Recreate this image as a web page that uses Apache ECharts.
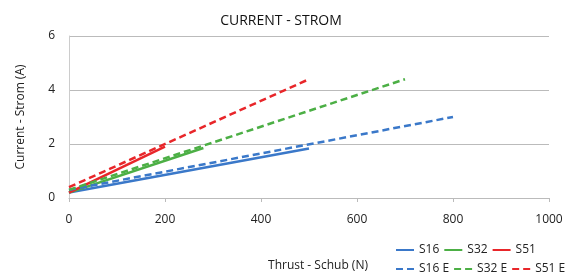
<!DOCTYPE html>
<html>
<head>
<meta charset="utf-8">
<script src="https://cdn.jsdelivr.net/npm/echarts@6/dist/echarts.min.js"></script>
<style>
  html, body { margin: 0; padding: 0; background: #fff; }
  #chart { width: 577px; height: 273px; }
</style>
</head>
<body>
<div id="chart"></div>
<script>
// measured curves, thrust (N) -> current (A)
const s16Thrust = [0, 500];
const s16Current = [0.2, 1.83];
const s32Thrust = [0, 280];
const s32Current = [0.2, 1.85];
const s51Thrust = [0, 200];
const s51Current = [0.2, 1.9];
// estimated curves
const s16eThrust = [0, 800];
const s16eCurrent = [0.3, 3.0];
const s32eThrust = [0, 700];
const s32eCurrent = [0.3, 4.4];
const s51eThrust = [0, 500];
const s51eCurrent = [0.4, 4.4];

const xTicks = [0, 200, 400, 600, 800, 1000];
const yTicks = [0, 2, 4, 6];

function pairs(xs, ys) {
    return xs.map((x, i) => [x, ys[i]]);
}

const blue = '#3a78c9', green = '#4caf45', red = '#e8262a';
const font = '"Open Sans", "Liberation Sans", sans-serif';

function line(name, xs, ys, color, dashed) {
    return {
        name: name,
        type: 'line',
        symbol: 'none',
        data: pairs(xs, ys),
        lineStyle: { color: color, width: 2.5, type: dashed ? [7, 4] : 'solid' },
        itemStyle: { color: color }
    };
}

const legendBase = {
    left: 390, itemWidth: 18, itemHeight: 10, itemGap: 4,
    itemStyle: { opacity: 0 },
    textStyle: { fontSize: 12, color: '#222', width: 34 }
};

const chart = echarts.init(document.getElementById('chart'));
chart.setOption({
    animation: false,
    textStyle: { fontFamily: font },
    title: {
        text: 'CURRENT - STROM',
        left: 276, top: 9, textAlign: 'center',
        textStyle: { fontSize: 14, fontWeight: 'normal', color: '#111', fontFamily: font }
    },
    legend: [
        Object.assign({}, legendBase, { data: ['S16', 'S32', 'S51'], top: 239 }),
        Object.assign({}, legendBase, { data: ['S16 E', 'S32 E', 'S51 E'], top: 258 })
    ],
    grid: { left: 69, right: 28, top: 36, bottom: 75, outerBoundsMode: 'none' },
    xAxis: {
        type: 'value', min: xTicks[0], max: xTicks[xTicks.length - 1], interval: 200,
        name: 'Thrust - Schub (N)', nameLocation: 'middle', nameGap: 62,
        nameTextStyle: { fontSize: 12, color: '#222', padding: [0, 0, 0, 18] },
        axisLine: { lineStyle: { color: '#bbb' } },
        axisTick: { show: true, length: 4, lineStyle: { color: '#bbb' } },
        axisLabel: { fontSize: 12, color: '#222', margin: 16, formatter: v => String(v) },
        splitLine: { show: false }
    },
    yAxis: {
        type: 'value', min: yTicks[0], max: yTicks[yTicks.length - 1], interval: 2,
        name: 'Current - Strom (A)', nameLocation: 'middle', nameGap: 42,
        nameTextStyle: { fontSize: 12, color: '#222' },
        axisLine: { show: true, lineStyle: { color: '#ccc' } },
        axisTick: { show: false },
        axisLabel: { fontSize: 12, color: '#222', margin: 14 },
        splitLine: { lineStyle: { color: '#bbb' } }
    },
    series: [
        line('S16', s16Thrust, s16Current, blue, false),
        line('S32', s32Thrust, s32Current, green, false),
        line('S51', s51Thrust, s51Current, red, false),
        line('S16 E', s16eThrust, s16eCurrent, blue, true),
        line('S32 E', s32eThrust, s32eCurrent, green, true),
        line('S51 E', s51eThrust, s51eCurrent, red, true)
    ]
});
</script>
</body>
</html>
